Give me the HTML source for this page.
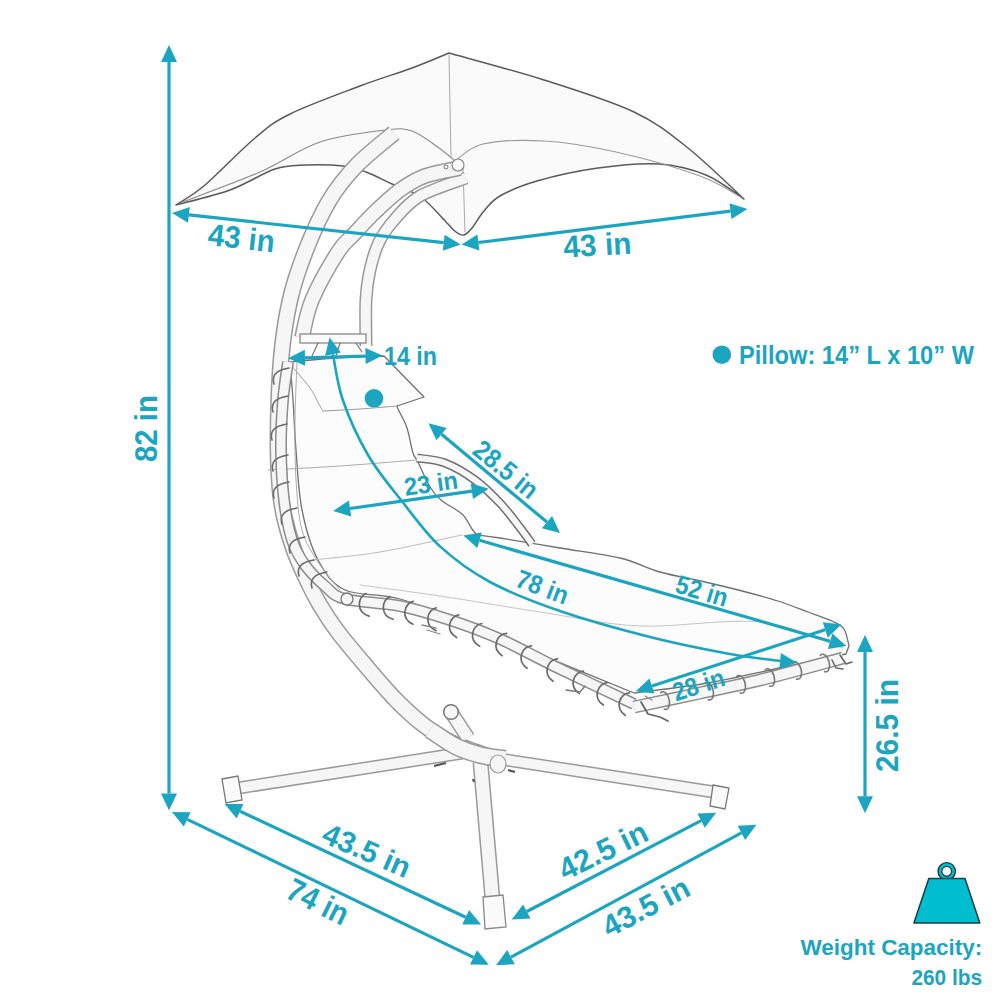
<!DOCTYPE html>
<html><head><meta charset="utf-8"><style>
html,body{margin:0;padding:0;background:#fff;}
svg{display:block;}
text{font-family:"Liberation Sans",sans-serif;font-weight:bold;fill:#1ca5c0;}
</style></head><body>
<svg width="1000" height="1000" viewBox="0 0 1000 1000">
<rect width="1000" height="1000" fill="#fff"/>
<g id="sketch"><path d="M176,205 C180.8,201.7 191.8,196.2 205,185 C218.2,173.8 240.8,149.8 255,138 C269.2,126.2 272.5,122.7 290,114 C307.5,105.3 339.7,93.7 360,86 C380.3,78.3 397.2,73.5 412,68 C426.8,62.5 442.8,55.5 449,53 L449,53 C464.8,57.5 513.2,70.2 544,80 C574.8,89.8 610,100.7 634,112 C658,123.3 669.7,133.5 688,148 C706.3,162.5 734.7,190.5 744,199 L744,199 C737.7,195 720.2,180.8 706,175 C691.8,169.2 677,165.2 659,164 C641,162.8 618.3,165.2 598,168 C577.7,170.8 553.3,176.3 537,181 C520.7,185.7 508.8,191 500,196 C491.2,201 488.7,205.7 484,211 C479.3,216.3 475.3,224 472,228 C468.7,232 466.7,234.3 464,235 C461.3,235.7 459,234.2 456,232 C453,229.8 451.8,227.8 446,222 C440.2,216.2 430,203.3 421,197 C412,190.7 401.2,188.2 392,184 C382.8,179.8 374.2,175 366,172 C357.8,169 353.2,167.2 343,166 C332.8,164.8 316.3,164.5 305,165 C293.7,165.5 287.5,164.8 275,169 C262.5,173.2 246.5,184 230,190 C213.5,196 185,202.5 176,205" fill="#fafafa" stroke="#5a5a5a" stroke-width="1.5" stroke-linecap="round" stroke-linejoin="round" />
<path d="M180,203 C193.3,197.8 236.7,182.2 260,172 C283.3,161.8 299,149 320,142 C341,135 370.7,131.8 386,130 C401.3,128.2 403.2,128 412,131 C420.8,134 431.8,143 439,148 C446.2,153 452.3,158.8 455,161" fill="none" stroke="#8a8a8a" stroke-width="1.1" stroke-linecap="round" stroke-linejoin="round" />
<path d="M455,161 C459.7,158.2 468.2,147.3 483,144 C497.8,140.7 521.8,139.7 544,141 C566.2,142.3 590,146.2 616,152 C642,157.8 679,168.3 700,176 C721,183.7 735,194.3 742,198" fill="none" stroke="#9a9a9a" stroke-width="1.1" stroke-linecap="round" stroke-linejoin="round" />
<path d="M449,55 L451,158" fill="none" stroke="#aaa" stroke-width="1.0" stroke-linecap="round" stroke-linejoin="round" />
<path d="M463,168 L465,232" fill="none" stroke="#aaa" stroke-width="1.0" stroke-linecap="round" stroke-linejoin="round" />
<path d="M466,178 C458.3,181 431.8,189.2 420,196 C408.2,202.8 401.8,211.3 395,219 C388.2,226.7 383.2,233.5 379,242 C374.8,250.5 372.2,260.3 370,270 C367.8,279.7 366.7,287.3 366,300 C365.3,312.7 366,338.3 366,346" fill="none" stroke="#9a9a9a" stroke-width="13" stroke-linecap="butt"/>
<path d="M466,178 C458.3,181 431.8,189.2 420,196 C408.2,202.8 401.8,211.3 395,219 C388.2,226.7 383.2,233.5 379,242 C374.8,250.5 372.2,260.3 370,270 C367.8,279.7 366.7,287.3 366,300 C365.3,312.7 366,338.3 366,346" fill="none" stroke="#f6f6f6" stroke-width="10.0" stroke-linecap="butt"/>
<path d="M460,168 C454.2,169.3 435,172.3 425,176 C415,179.7 408.3,184 400,190 C391.7,196 382.7,204.7 375,212 C367.3,219.3 360.2,227.3 354,234 C347.8,240.7 345,241 338,252 C331,263 318,285.7 312,300 C306,314.3 303.7,331.7 302,338" fill="none" stroke="#9a9a9a" stroke-width="16" stroke-linecap="butt"/>
<path d="M460,168 C454.2,169.3 435,172.3 425,176 C415,179.7 408.3,184 400,190 C391.7,196 382.7,204.7 375,212 C367.3,219.3 360.2,227.3 354,234 C347.8,240.7 345,241 338,252 C331,263 318,285.7 312,300 C306,314.3 303.7,331.7 302,338" fill="none" stroke="#f6f6f6" stroke-width="13.0" stroke-linecap="butt"/>
<path d="M394,133 C387.7,138.5 366.8,154.7 356,166 C345.2,177.3 337.3,187 329,201 C320.7,215 312.5,233.5 306,250 C299.5,266.5 294.2,281.7 290,300 C285.8,318.3 283,336.7 281,360 C279,383.3 278.2,418.3 278,440 C277.8,461.7 278.8,476.7 280,490 C281.2,503.3 282.7,510 285,520 C287.3,530 290.5,540.3 294,550 C297.5,559.7 301.7,568.8 306,578 C310.3,587.2 314.7,596 320,605 C325.3,614 330.3,621.8 338,632 C345.7,642.2 356.2,654.5 366,666 C375.8,677.5 387.2,691 397,701 C406.8,711 415.8,719 425,726 C434.2,733 441.2,737.8 452,743 C462.8,748.2 483.7,754.7 490,757" fill="none" stroke="#9a9a9a" stroke-width="17" stroke-linecap="butt"/>
<path d="M394,133 C387.7,138.5 366.8,154.7 356,166 C345.2,177.3 337.3,187 329,201 C320.7,215 312.5,233.5 306,250 C299.5,266.5 294.2,281.7 290,300 C285.8,318.3 283,336.7 281,360 C279,383.3 278.2,418.3 278,440 C277.8,461.7 278.8,476.7 280,490 C281.2,503.3 282.7,510 285,520 C287.3,530 290.5,540.3 294,550 C297.5,559.7 301.7,568.8 306,578 C310.3,587.2 314.7,596 320,605 C325.3,614 330.3,621.8 338,632 C345.7,642.2 356.2,654.5 366,666 C375.8,677.5 387.2,691 397,701 C406.8,711 415.8,719 425,726 C434.2,733 441.2,737.8 452,743 C462.8,748.2 483.7,754.7 490,757" fill="none" stroke="#f6f6f6" stroke-width="14.0" stroke-linecap="butt"/>
<rect x="300" y="334" width="66" height="9" fill="#fbfbfb" stroke="#888" stroke-width="1.3"/>
<path d="M318,343 L312,356 M340,343 L336,356 M356,343 L362,352" fill="none" stroke="#777" stroke-width="1.2" stroke-linecap="round" stroke-linejoin="round" />
<circle cx="458" cy="165" r="6" fill="#fafafa" stroke="#888" stroke-width="1.2"/>
<circle cx="446" cy="167" r="2" fill="none" stroke="#777" stroke-width="1"/>
<path d="M232,789 C270.3,783 423.7,759 462,753" fill="none" stroke="#9a9a9a" stroke-width="13" stroke-linecap="butt"/>
<path d="M232,789 C270.3,783 423.7,759 462,753" fill="none" stroke="#f6f6f6" stroke-width="10.0" stroke-linecap="butt"/>
<path d="M500,759 C535.7,764.5 678.3,786.5 714,792" fill="none" stroke="#9a9a9a" stroke-width="13" stroke-linecap="butt"/>
<path d="M500,759 C535.7,764.5 678.3,786.5 714,792" fill="none" stroke="#f6f6f6" stroke-width="10.0" stroke-linecap="butt"/>
<path d="M480.5,762 C482.6,785.8 490.9,881.2 493,905" fill="none" stroke="#9a9a9a" stroke-width="16" stroke-linecap="butt"/>
<path d="M480.5,762 C482.6,785.8 490.9,881.2 493,905" fill="none" stroke="#f6f6f6" stroke-width="13.0" stroke-linecap="butt"/>
<path d="M468,738 C465.2,733.7 453.8,716.3 451,712" fill="none" stroke="#9a9a9a" stroke-width="15" stroke-linecap="butt"/>
<path d="M468,738 C465.2,733.7 453.8,716.3 451,712" fill="none" stroke="#f6f6f6" stroke-width="12.0" stroke-linecap="butt"/>
<circle cx="451" cy="712" r="7.3" fill="#f6f6f6" stroke="#777" stroke-width="1.5"/>
<path d="M430,730 C434.2,732.7 446.7,741.8 455,746 C463.3,750.2 471.7,752.8 480,755 C488.3,757.2 500.8,758.3 505,759" fill="none" stroke="#9a9a9a" stroke-width="18" stroke-linecap="butt"/>
<path d="M430,730 C434.2,732.7 446.7,741.8 455,746 C463.3,750.2 471.7,752.8 480,755 C488.3,757.2 500.8,758.3 505,759" fill="none" stroke="#f6f6f6" stroke-width="15.0" stroke-linecap="butt"/>
<path d="M222,779 L238,776 L242,800 L226,803 Z" fill="#fafafa" stroke="#777" stroke-width="1.3"/>
<path d="M713,785 L729,788 L725,809 L710,806 Z" fill="#fafafa" stroke="#777" stroke-width="1.3"/>
<path d="M483,897 L503,895 L506,927 L485,929 Z" fill="#fafafa" stroke="#888" stroke-width="1.3"/>
<ellipse cx="498" cy="764" rx="8" ry="9" fill="#f6f6f6" stroke="#999" stroke-width="1.2"/>
<path d="M434,766 L446,763 M508,770 L515,772 M473,779 L474,782" stroke="#555" stroke-width="2.2"/>
<path d="M290,362 C297.5,361.3 319.3,359 335,358 C350.7,357 375.8,356.3 384,356 L384,356 C390.7,362.8 417.3,390.2 424,397 L424,397 C419.5,398.5 401.5,404.5 397,406 L397,406 C397.3,406.8 397.3,407.3 399,411 C400.7,414.7 404.7,421 407,428 C409.3,435 411.2,447.3 413,453 C414.8,458.7 415.2,456.3 418,462 C420.8,467.7 426.2,480.7 430,487 C433.8,493.3 435.7,495.5 441,500 C446.3,504.5 456.8,509.2 462,514 C467.2,518.8 469.5,525.5 472,529 C474.5,532.5 476.2,534 477,535 L477,535 C480.8,535.5 486.2,535.8 500,538 C513.8,540.2 540,544.7 560,548 C580,551.3 603.3,554 620,558 C636.7,562 645.8,568 660,572 C674.2,576 690.7,578.7 705,582 C719.3,585.3 733.8,588.8 746,592 C758.2,595.2 767.7,597.7 778,601 C788.3,604.3 799,608.7 808,612 C817,615.3 826,618.2 832,621 C838,623.8 841.2,624.8 844,629 C846.8,633.2 848.2,643.2 849,646 L849,646 C848.5,647.3 846.5,652.7 846,654 L846,654 C835.7,656.2 807,662.2 784,667 C761,671.8 733,678.7 708,683 C683,687.3 646.3,691.3 634,693 L634,693 C621,687.7 581.7,671.7 556,661 C530.3,650.3 506,639.3 480,629 C454,618.7 422.5,605.5 400,599 C377.5,592.5 358.7,596.5 345,590 C331.3,583.5 325.2,573.3 318,560 C310.8,546.7 305.7,528.3 302,510 C298.3,491.7 297.5,468.3 296,450 C294.5,431.7 294,414.7 293,400 C292,385.3 290.5,368.3 290,362Z" fill="#fcfcfc" stroke="#707070" stroke-width="1.3" stroke-linecap="round" stroke-linejoin="round" />
<path d="M290,364 C293.3,368 305,381 310,388 C315,395 317.8,402.2 320,406 C322.2,409.8 322.5,410.2 323,411" fill="none" stroke="#999" stroke-width="1.0" stroke-linecap="round" stroke-linejoin="round" />
<path d="M323,411 C329.2,410.7 347.7,409.8 360,409 C372.3,408.2 390.8,406.5 397,406" fill="none" stroke="#999" stroke-width="1.0" stroke-linecap="round" stroke-linejoin="round" />
<path d="M268,470 C280,469.3 315.2,467.7 340,466 C364.8,464.3 404.2,461 417,460" fill="none" stroke="#aaa" stroke-width="1.0" stroke-linecap="round" stroke-linejoin="round" />
<path d="M312,560 C323.3,558.7 355,556.2 380,552 C405,547.8 448.3,537.8 462,535" fill="none" stroke="#bbb" stroke-width="1.0" stroke-linecap="round" stroke-linejoin="round" />
<path d="M360,585 C373.3,586.8 410,591.5 440,596 C470,600.5 506.7,607 540,612 C573.3,617 603.3,624.3 640,626 C676.7,627.7 726.2,618.3 760,622 C793.8,625.7 829.2,643.7 843,648" fill="none" stroke="#c4c4c4" stroke-width="1.0" stroke-linecap="round" stroke-linejoin="round" />
<path d="M417,458 C421.7,458.8 435.3,459.3 445,463 C454.7,466.7 465.8,473.3 475,480 C484.2,486.7 492.8,495.5 500,503 C507.2,510.5 512.7,518.2 518,525 C523.3,531.8 529.7,540.8 532,544" fill="none" stroke="#707070" stroke-width="9" stroke-linecap="butt"/>
<path d="M417,458 C421.7,458.8 435.3,459.3 445,463 C454.7,466.7 465.8,473.3 475,480 C484.2,486.7 492.8,495.5 500,503 C507.2,510.5 512.7,518.2 518,525 C523.3,531.8 529.7,540.8 532,544" fill="none" stroke="#f6f6f6" stroke-width="6.0" stroke-linecap="butt"/>
<path d="M288,362 C287.2,368.3 284.2,385.3 283,400 C281.8,414.7 280.8,433.3 281,450 C281.2,466.7 282.2,485 284,500 C285.8,515 288.5,529.2 292,540 C295.5,550.8 299.5,557.3 305,565 C310.5,572.7 318.3,580.3 325,586 C331.7,591.7 332.5,595.7 345,599 C357.5,602.3 382.5,602.5 400,606 C417.5,609.5 433.3,614.5 450,620 C466.7,625.5 482.3,631.2 500,639 C517.7,646.8 533.7,656.2 556,667 C578.3,677.8 621,697.8 634,704" fill="none" stroke="#8c8c8c" stroke-width="12" stroke-linecap="butt"/>
<path d="M288,362 C287.2,368.3 284.2,385.3 283,400 C281.8,414.7 280.8,433.3 281,450 C281.2,466.7 282.2,485 284,500 C285.8,515 288.5,529.2 292,540 C295.5,550.8 299.5,557.3 305,565 C310.5,572.7 318.3,580.3 325,586 C331.7,591.7 332.5,595.7 345,599 C357.5,602.3 382.5,602.5 400,606 C417.5,609.5 433.3,614.5 450,620 C466.7,625.5 482.3,631.2 500,639 C517.7,646.8 533.7,656.2 556,667 C578.3,677.8 621,697.8 634,704" fill="none" stroke="#f6f6f6" stroke-width="9.0" stroke-linecap="butt"/>
<path d="M634,707 C645,704.7 679,697.5 700,693 C721,688.5 736.2,685.8 760,680 C783.8,674.2 829.2,661.7 843,658" fill="none" stroke="#8c8c8c" stroke-width="13" stroke-linecap="butt"/>
<path d="M634,707 C645,704.7 679,697.5 700,693 C721,688.5 736.2,685.8 760,680 C783.8,674.2 829.2,661.7 843,658" fill="none" stroke="#f6f6f6" stroke-width="10.0" stroke-linecap="butt"/>
<path d="M297,362 C296.7,371.7 295.2,400.3 295,420 C294.8,439.7 294.8,461.7 296,480 C297.2,498.3 298.3,516.3 302,530 C305.7,543.7 311.7,552 318,562 C324.3,572 336.3,585.3 340,590" fill="none" stroke="#aaa" stroke-width="1.0" stroke-linecap="round" stroke-linejoin="round" />
<path d="M289,368 Q270,371 274,384" fill="none" stroke="#6a6a6a" stroke-width="1.6" stroke-linecap="round"/>
<path d="M288,396 Q269,399 273,412" fill="none" stroke="#6a6a6a" stroke-width="1.6" stroke-linecap="round"/>
<path d="M287,424 Q268,427 272,440" fill="none" stroke="#6a6a6a" stroke-width="1.6" stroke-linecap="round"/>
<path d="M288,455 Q269,458 273,471" fill="none" stroke="#6a6a6a" stroke-width="1.6" stroke-linecap="round"/>
<path d="M289,482 Q270,485 274,498" fill="none" stroke="#6a6a6a" stroke-width="1.6" stroke-linecap="round"/>
<path d="M297,508 Q278,511 282,524" fill="none" stroke="#6a6a6a" stroke-width="1.6" stroke-linecap="round"/>
<path d="M305,537 Q286,540 290,553" fill="none" stroke="#6a6a6a" stroke-width="1.6" stroke-linecap="round"/>
<path d="M314,560 Q295,563 299,576" fill="none" stroke="#6a6a6a" stroke-width="1.6" stroke-linecap="round"/>
<path d="M327,572 Q308,575 312,588" fill="none" stroke="#6a6a6a" stroke-width="1.6" stroke-linecap="round"/>
<path d="M365,593.5 c-8,4 -8,20 6,22" transform="rotate(7.3 365 601.5)" fill="none" stroke="#6a6a6a" stroke-width="1.7" stroke-linecap="round"/>
<path d="M389,596.6 c-8,4 -8,20 6,22" transform="rotate(7.3 389 604.6)" fill="none" stroke="#6a6a6a" stroke-width="1.7" stroke-linecap="round"/>
<path d="M411,601.1 c-8,4 -8,20 6,22" transform="rotate(15.6 411 609.1)" fill="none" stroke="#6a6a6a" stroke-width="1.7" stroke-linecap="round"/>
<path d="M434,607.5 c-8,4 -8,20 6,22" transform="rotate(15.6 434 615.5)" fill="none" stroke="#6a6a6a" stroke-width="1.7" stroke-linecap="round"/>
<path d="M456,614.3 c-8,4 -8,20 6,22" transform="rotate(20.8 456 622.3)" fill="none" stroke="#6a6a6a" stroke-width="1.7" stroke-linecap="round"/>
<path d="M479,623 c-8,4 -8,20 6,22" transform="rotate(20.8 479 631)" fill="none" stroke="#6a6a6a" stroke-width="1.7" stroke-linecap="round"/>
<path d="M503,632.5 c-8,4 -8,20 6,22" transform="rotate(26.6 503 640.5)" fill="none" stroke="#6a6a6a" stroke-width="1.7" stroke-linecap="round"/>
<path d="M528,645 c-8,4 -8,20 6,22" transform="rotate(26.6 528 653)" fill="none" stroke="#6a6a6a" stroke-width="1.7" stroke-linecap="round"/>
<path d="M554,658 c-8,4 -8,20 6,22" transform="rotate(26.6 554 666)" fill="none" stroke="#6a6a6a" stroke-width="1.7" stroke-linecap="round"/>
<path d="M580,670.4 c-8,4 -8,20 6,22" transform="rotate(25.4 580 678.4)" fill="none" stroke="#6a6a6a" stroke-width="1.7" stroke-linecap="round"/>
<path d="M604,681.8 c-8,4 -8,20 6,22" transform="rotate(25.4 604 689.8)" fill="none" stroke="#6a6a6a" stroke-width="1.7" stroke-linecap="round"/>
<path d="M626,692.2 c-8,4 -8,20 6,22" transform="rotate(25.4 626 700.2)" fill="none" stroke="#6a6a6a" stroke-width="1.7" stroke-linecap="round"/>
<path d="M662,693.1 a5,9 0 1,1 0,16" transform="rotate(-12 662 701.1)" fill="none" stroke="#777" stroke-width="1.5"/>
<path d="M706,683.7 a5,9 0 1,1 0,16" transform="rotate(-12.2 706 691.7)" fill="none" stroke="#777" stroke-width="1.5"/>
<path d="M738,676.8 a5,9 0 1,1 0,16" transform="rotate(-12.2 738 684.8)" fill="none" stroke="#777" stroke-width="1.5"/>
<path d="M767,670.1 a5,9 0 1,1 0,16" transform="rotate(-14.8 767 678.1)" fill="none" stroke="#777" stroke-width="1.5"/>
<path d="M794,663 a5,9 0 1,1 0,16" transform="rotate(-14.8 794 671)" fill="none" stroke="#777" stroke-width="1.5"/>
<path d="M822,655.6 a5,9 0 1,1 0,16" transform="rotate(-14.8 822 663.6)" fill="none" stroke="#777" stroke-width="1.5"/>
<circle cx="347" cy="599" r="6" fill="#f6f6f6" stroke="#777" stroke-width="1.3"/>
<path d="M641,702 L648,714 L660,717 L668,721" fill="none" stroke="#666" stroke-width="1.8" stroke-linecap="round" stroke-linejoin="round" />
<path d="M645,696 L652,700" fill="none" stroke="#888" stroke-width="1.2" stroke-linecap="round" stroke-linejoin="round" />
<path d="M832,660 L836,668 L843,669 M840,655 L846,664 L852,662" fill="none" stroke="#666" stroke-width="1.6" stroke-linecap="round" stroke-linejoin="round" />
<path d="M566,690 L580,692 L585,686" fill="none" stroke="#777" stroke-width="1.4" stroke-linecap="round" stroke-linejoin="round" />
<path d="M427,630 L440,634 M422,625 L436,628" fill="none" stroke="#888" stroke-width="1.3" stroke-linecap="round" stroke-linejoin="round" /></g>
<g id="teal"><line x1="169" y1="62" x2="169" y2="793.5" stroke="#1ca5c0" stroke-width="3.2"/><polygon points="169,45 177,62 161,62" fill="#1ca5c0"/><polygon points="169,810.5 161,793.5 177,793.5" fill="#1ca5c0"/>
<line x1="188.9" y1="214.9" x2="443.7" y2="242.7" stroke="#1ca5c0" stroke-width="3.2"/><polygon points="172,213 189.8,206.9 188,222.8" fill="#1ca5c0"/><polygon points="460.6,244.6 442.8,250.7 444.6,234.8" fill="#1ca5c0"/>
<line x1="478.4" y1="242.5" x2="730.5" y2="211.1" stroke="#1ca5c0" stroke-width="3.2"/><polygon points="461.5,244.6 477.4,234.6 479.4,250.4" fill="#1ca5c0"/><polygon points="747.4,209 731.5,219 729.5,203.2" fill="#1ca5c0"/>
<line x1="305" y1="357.8" x2="365.5" y2="356" stroke="#1ca5c0" stroke-width="3.2"/><polygon points="288,358.3 304.8,349.8 305.2,365.8" fill="#1ca5c0"/><polygon points="382.5,355.5 365.7,364 365.3,348" fill="#1ca5c0"/>
<line x1="350" y1="508.5" x2="471.9" y2="491.2" stroke="#1ca5c0" stroke-width="3.2"/><polygon points="333.2,510.9 348.9,500.6 351.2,516.4" fill="#1ca5c0"/><polygon points="488.7,488.8 473,499.1 470.7,483.3" fill="#1ca5c0"/>
<line x1="441.6" y1="434.2" x2="546.9" y2="522.1" stroke="#1ca5c0" stroke-width="3.2"/><polygon points="428.5,423.3 446.7,428 436.4,440.3" fill="#1ca5c0"/><polygon points="560,533 541.8,528.3 552.1,516" fill="#1ca5c0"/>
<line x1="479.6" y1="540.3" x2="830.1" y2="641.2" stroke="#1ca5c0" stroke-width="3.2"/><polygon points="463.3,535.6 481.8,532.6 477.4,548" fill="#1ca5c0"/><polygon points="846.4,645.9 827.9,648.9 832.3,633.5" fill="#1ca5c0"/>
<line x1="652" y1="686" x2="825.2" y2="629.8" stroke="#1ca5c0" stroke-width="3.2"/><polygon points="635.8,691.2 649.5,678.4 654.4,693.6" fill="#1ca5c0"/><polygon points="841.4,624.6 827.7,637.4 822.8,622.2" fill="#1ca5c0"/>
<line x1="865" y1="652.1" x2="865" y2="796.3" stroke="#1ca5c0" stroke-width="3.2"/><polygon points="865,635.1 873,652.1 857,652.1" fill="#1ca5c0"/><polygon points="865,813.3 857,796.3 873,796.3" fill="#1ca5c0"/>
<line x1="187.3" y1="819.4" x2="473.5" y2="957.4" stroke="#1ca5c0" stroke-width="3.2"/><polygon points="172,812 190.8,812.2 183.8,826.6" fill="#1ca5c0"/><polygon points="488.8,964.8 470,964.6 477,950.2" fill="#1ca5c0"/>
<line x1="240.1" y1="811.2" x2="465.7" y2="917.3" stroke="#1ca5c0" stroke-width="3.2"/><polygon points="224.7,804 243.5,804 236.7,818.5" fill="#1ca5c0"/><polygon points="481.1,924.5 462.3,924.5 469.1,910" fill="#1ca5c0"/>
<line x1="526.8" y1="911.5" x2="701.1" y2="820.7" stroke="#1ca5c0" stroke-width="3.2"/><polygon points="511.7,919.4 523.1,904.4 530.5,918.6" fill="#1ca5c0"/><polygon points="716.2,812.8 704.8,827.8 697.4,813.6" fill="#1ca5c0"/>
<line x1="511" y1="957.1" x2="741.4" y2="832.9" stroke="#1ca5c0" stroke-width="3.2"/><polygon points="496,965.2 507.2,950.1 514.8,964.2" fill="#1ca5c0"/><polygon points="756.4,824.8 745.2,839.9 737.6,825.8" fill="#1ca5c0"/>
<path d="M332.9,354.2 C334.6,361.8 337,383.2 342.8,400 C348.6,416.8 358.2,438.2 368,455 C377.8,471.8 389.6,485.6 401.6,500.8 C413.6,516 425.3,532.9 440,546.4 C454.7,559.9 470,571.2 490,582 C510,592.8 533.3,601.8 560,611 C586.7,620.2 621.7,629.8 650,637 C678.3,644.2 708.3,650 730,654 C751.7,658 771.7,659.8 780.1,661" fill="none" stroke="#1ca5c0" stroke-width="2.6"/>
<polygon points="329.5,337.5 340.8,352.5 325.1,355.8" fill="#1ca5c0"/><polygon points="797,662.7 779.3,669 780.9,653" fill="#1ca5c0"/>
<circle cx="374" cy="398.3" r="9.3" fill="#1ca5c0"/>
<circle cx="721.8" cy="354.7" r="9.3" fill="#1ca5c0"/></g>
<circle cx="946.7" cy="871.3" r="8.7" fill="#00bdd0" stroke="#1d3c42" stroke-width="1.4"/><circle cx="946.7" cy="871.3" r="4.9" fill="#fff" stroke="#1d3c42" stroke-width="1.3"/><path d="M928.8,878.5 L965,878.5 L979.8,923.1 L913.9,923.1 Z" fill="#00bdd0" stroke="#1d3c42" stroke-width="1.5" stroke-linejoin="round"/>
<g id="labels"><text x="0" y="0" transform="translate(207 245) rotate(6.3)" font-size="31" textLength="67" lengthAdjust="spacingAndGlyphs" text-anchor="start">43 in</text>
<text x="0" y="0" transform="translate(564 257.5) rotate(-3.3)" font-size="31" textLength="68" lengthAdjust="spacingAndGlyphs" text-anchor="start">43 in</text>
<text x="0" y="0" transform="translate(384 365) rotate(0)" font-size="25.5" textLength="53" lengthAdjust="spacingAndGlyphs" text-anchor="start">14 in</text>
<text x="0" y="0" transform="translate(157 462) rotate(-90)" font-size="31.5" textLength="67" lengthAdjust="spacingAndGlyphs" text-anchor="start">82 in</text>
<text x="0" y="0" transform="translate(898 772) rotate(-90)" font-size="31" textLength="93" lengthAdjust="spacingAndGlyphs" text-anchor="start">26.5 in</text>
<text x="0" y="0" transform="translate(405.4 495.8) rotate(-8)" font-size="25" textLength="54" lengthAdjust="spacingAndGlyphs" text-anchor="start">23 in</text>
<text x="0" y="0" transform="translate(471 453) rotate(39)" font-size="27" textLength="75" lengthAdjust="spacingAndGlyphs" text-anchor="start">28.5 in</text>
<text x="0" y="0" transform="translate(514 586) rotate(20.4)" font-size="26" textLength="54" lengthAdjust="spacingAndGlyphs" text-anchor="start">78 in</text>
<text x="0" y="0" transform="translate(674 592) rotate(16.4)" font-size="26" textLength="53" lengthAdjust="spacingAndGlyphs" text-anchor="start">52 in</text>
<text x="0" y="0" transform="translate(676 701.5) rotate(-18)" font-size="26" textLength="53" lengthAdjust="spacingAndGlyphs" text-anchor="start">28 in</text>
<text x="0" y="0" transform="translate(320 841.5) rotate(23.5)" font-size="30" textLength="93" lengthAdjust="spacingAndGlyphs" text-anchor="start">43.5 in</text>
<text x="0" y="0" transform="translate(284 897) rotate(26.5)" font-size="32" textLength="65" lengthAdjust="spacingAndGlyphs" text-anchor="start">74 in</text>
<text x="0" y="0" transform="translate(565 881) rotate(-26)" font-size="31" textLength="95" lengthAdjust="spacingAndGlyphs" text-anchor="start">42.5 in</text>
<text x="0" y="0" transform="translate(609 938) rotate(-27.5)" font-size="30.5" textLength="94" lengthAdjust="spacingAndGlyphs" text-anchor="start">43.5 in</text>
<text x="0" y="0" transform="translate(739 364) rotate(0)" font-size="25" textLength="235" lengthAdjust="spacingAndGlyphs" text-anchor="start">Pillow: 14” L x 10” W</text>
<text x="0" y="0" transform="translate(800.5 955) rotate(0)" font-size="21.5" textLength="181.7" lengthAdjust="spacingAndGlyphs" text-anchor="start">Weight Capacity:</text>
<text x="0" y="0" transform="translate(911.4 984.5) rotate(0)" font-size="21.5" textLength="70.6" lengthAdjust="spacingAndGlyphs" text-anchor="start">260 lbs</text></g>
</svg></body></html>
